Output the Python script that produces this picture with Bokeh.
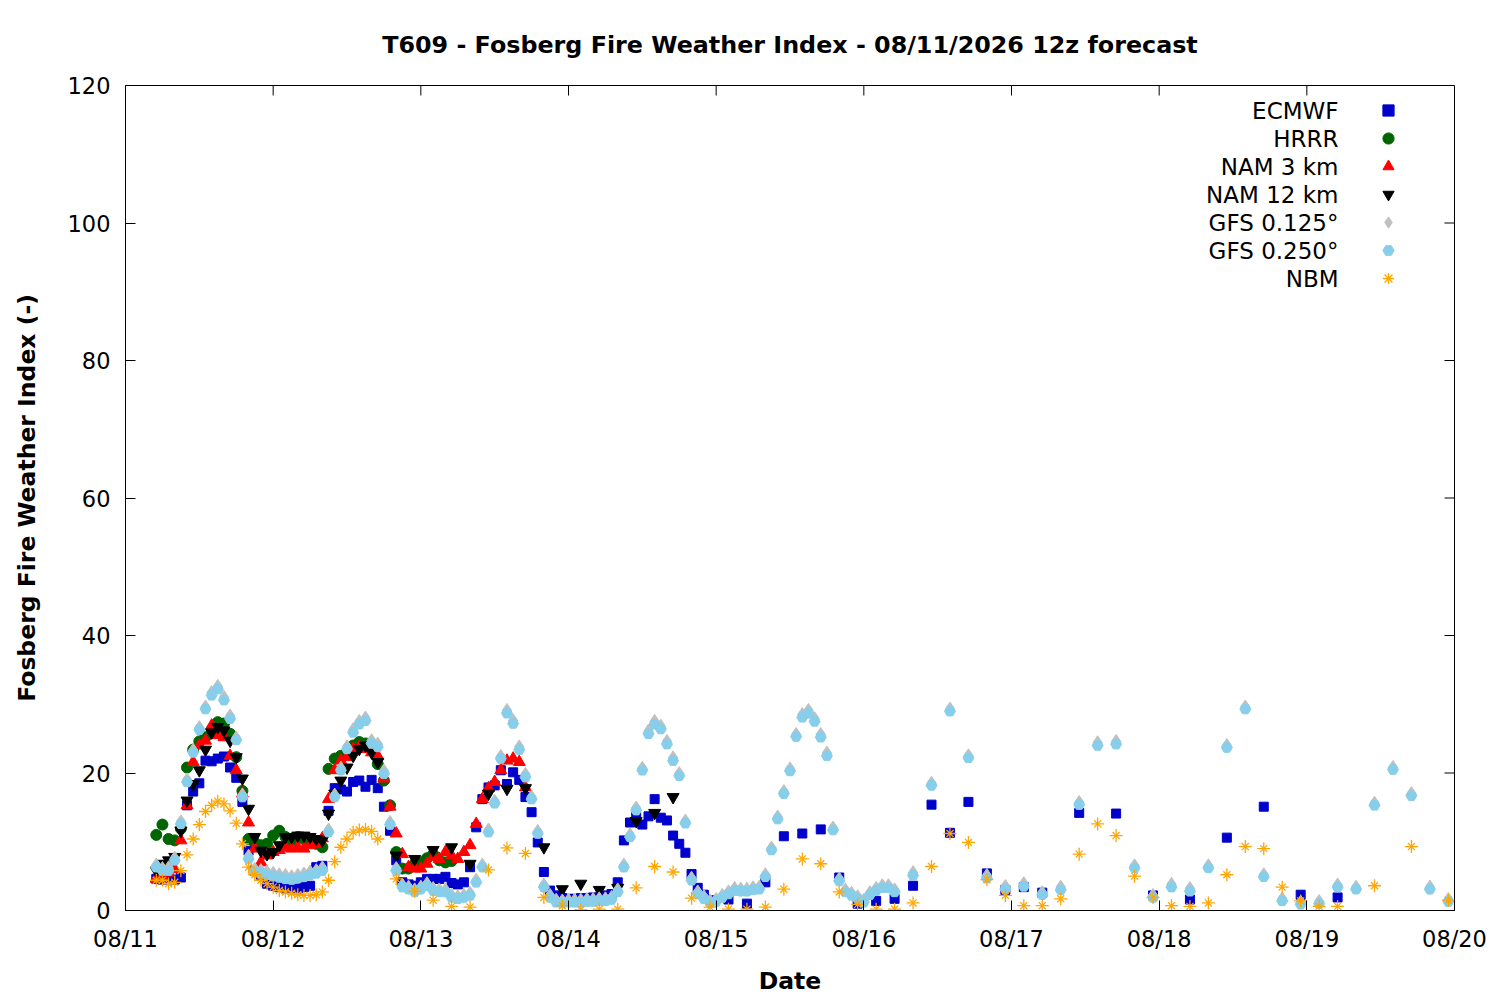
from bokeh.plotting import figure
from bokeh.models import FixedTicker, Legend, LegendItem, Label, Range1d, ColumnDataSource
from bokeh.embed import file_html
from bokeh.resources import INLINE

# ---------------- data (x = hours since 08/11 00 local) ----------------
day_ticks = [0, 24, 48, 72, 96, 120, 144, 168, 192, 216]
day_labels = ["08/11", "08/12", "08/13", "08/14", "08/15", "08/16", "08/17", "08/18", "08/19", "08/20"]
y_ticks = [0, 20, 40, 60, 80, 100, 120]

ecmwf_hours = list(range(5, 96)) + list(range(98, 150, 3)) + list(range(155, 198, 6))
ecmwf_vals = [4.6, 4.5, 4.6, 4.5, 4.8,
              15.3, 17.3, 18.5, 21.8, 21.7, 22.1, 22.4, 20.8, 19.3, 15.8,
              8.7, 5.8, 5.2, 3.9, 3.6, 3.4, 3.2, 3.1, 3.2, 3.4,
              3.6, 6.3, 6.5, 14.5, 17.8, 17.6, 17.3, 18.7, 18.9, 18.0,
              19.0, 17.8, 15.1, 11.6, 7.3, 4.1, 3.8, 3.6, 4.1, 4.6,
              4.6, 4.6, 4.9, 4.0, 3.8, 4.1, 6.3, 12.1, 16.2, 17.9,
              18.2, 20.4, 18.4, 20.1, 19.0, 16.5, 14.3, 9.9, 5.6, 2.9,
              2.2, 1.8, 1.7, 1.7, 1.8, 1.8, 1.9, 1.9, 2.2, 2.4,
              4.1, 10.2, 12.8, 13.6, 12.5, 13.7, 16.2, 13.5, 13.1, 10.9,
              9.7, 8.4, 5.3, 3.3, 2.3, 1.5,
              1.6, 1.0, 4.1, 10.8, 11.2, 11.8, 4.8, 1.0, 1.4, 1.7, 3.6, 15.4, 11.3, 15.8, 5.4, 3.0, 3.4, 2.6,
              14.2, 14.1, 2.2, 1.6, 10.6, 15.1, 2.3, 1.9]

hrrr_hours = list(range(5, 54))
hrrr_vals = [11.0, 12.5, 10.4, 10.2, 11.9,
             20.8, 23.4, 24.6, 25.2, 26.3, 27.4, 27.2, 25.7, 22.3, 17.4,
             10.4, 9.9, 9.5, 9.7, 10.9, 11.6, 10.7, 10.2, 10.7, 10.4,
             10.2, 9.7, 9.2, 20.6, 22.1, 22.5, 23.0, 24.0, 24.5, 24.3,
             24.0, 21.3, 18.9, 15.3, 8.5, 6.1, 6.1, 6.8, 7.0, 7.6,
             8.2, 7.3, 7.0, 7.2]

nam3_hours = list(range(5, 66))
nam3_vals = [4.6, 5.0, 5.5, 6.0, 10.2,
             15.3, 21.6, 24.0, 24.7, 26.9, 25.5, 25.2, 22.5, 20.4, 17.0,
             12.8, 9.0, 7.0, 8.0, 8.5, 8.8, 9.2, 9.0, 9.2, 9.0,
             9.5, 9.7, 10.5, 16.2, 20.4, 21.8, 22.3, 23.5, 23.8, 23.5,
             23.0, 22.5, 19.2, 15.1, 11.2, 8.2, 6.3, 6.1, 6.1, 6.8,
             7.8, 7.5, 8.5, 8.0, 7.5, 8.5, 9.5, 12.6, 16.2, 17.8,
             18.7, 20.4, 21.8, 22.1, 21.6, 17.9]

nam12_hours = list(range(5, 42)) + list(range(44, 90, 3))
nam12_vals = [5.8, 6.8, 7.3, 7.8, 11.6,
              16.0, 18.4, 20.4, 23.4, 25.9, 26.7, 26.2, 24.7, 22.3, 19.2,
              14.8, 10.7, 8.7, 8.2, 8.5, 9.5, 10.7, 10.7, 10.9, 10.9,
              10.7, 10.4, 10.2, 14.1, 17.0, 18.9, 20.8, 22.5, 23.5, 24.0,
              23.0, 21.6,
              8.0, 7.5, 8.8, 9.2, 6.8, 17.0, 17.7, 17.8, 9.2, 3.1, 3.9, 3.0, 3.3, 13.0, 14.2, 16.5]

gfs_hours = list(range(5, 126)) + list(range(128, 216, 3))
gfs025_vals = [6.3, 5.8, 5.8, 7.3, 12.6,
               18.7, 23.0, 26.3, 29.3, 31.3, 32.2, 30.6, 27.9, 24.8, 16.5,
               7.5, 5.6, 5.4, 5.2, 5.0, 4.8, 4.6, 4.5, 4.7, 4.9,
               5.2, 5.4, 5.8, 11.4, 16.5, 20.4, 23.5, 25.9, 27.1, 27.6,
               24.3, 23.8, 19.9, 12.5, 5.8, 3.4, 3.1, 2.7, 3.1, 3.6,
               2.9, 2.7, 2.7, 1.9, 1.7, 1.9, 2.2, 4.1, 6.3, 11.4,
               15.6, 22.1, 28.7, 27.2, 23.4, 19.4, 16.2, 11.2, 3.4, 1.9,
               1.2, 1.1, 1.2, 1.2, 1.2, 1.3, 1.3, 1.4, 1.4, 1.6,
               2.7, 6.3, 10.7, 14.6, 20.4, 25.7, 27.1, 26.4, 24.2, 21.8,
               19.6, 12.7, 4.4, 2.4, 1.7, 1.1, 1.3, 1.9, 2.4, 2.9,
               2.8, 2.8, 3.0, 3.1, 4.9, 8.8, 13.3, 17.0, 20.3, 25.3,
               28.1, 28.7, 27.5, 25.2, 22.5, 11.7, 4.3, 2.7, 2.2, 1.7,
               1.2, 2.3, 2.9, 3.3, 3.3, 2.7,
               5.1, 18.2, 29.0, 22.2, 4.7, 3.1, 3.5, 2.3, 3.0, 15.4,
               24.0, 24.2, 6.2, 1.9, 3.4, 2.8, 6.2, 23.7, 29.3, 4.9,
               1.4, 0.9, 1.0, 3.4, 3.1, 15.3, 20.5, 16.7, 3.1, 1.3]
gfs0125_vals = [6.6, 6.1, 6.2, 7.6, 12.9,
                19.0, 23.3, 26.6, 29.6, 31.7, 32.6, 31.0, 28.3, 25.1, 16.8,
                7.9, 6.0, 5.8, 5.6, 5.4, 5.2, 5.1, 4.9, 5.1, 5.3,
                5.6, 5.8, 6.2, 11.7, 16.8, 20.7, 23.8, 26.3, 27.5, 28.0,
                24.7, 24.2, 20.3, 12.8, 6.1, 3.7, 3.4, 3.0, 3.4, 3.9,
                3.2, 3.0, 3.0, 2.2, 2.0, 2.2, 2.5, 4.4, 6.6, 11.7,
                15.9, 22.4, 29.1, 27.6, 23.8, 19.8, 16.5, 11.5, 3.7, 2.2,
                1.5, 1.4, 1.5, 1.5, 1.5, 1.6, 1.6, 1.7, 1.7, 1.9,
                3.0, 6.6, 11.0, 14.9, 20.7, 26.1, 27.5, 26.8, 24.6, 22.2,
                19.9, 13.0, 4.7, 2.7, 2.0, 1.4, 1.6, 2.2, 2.7, 3.2,
                3.1, 3.1, 3.3, 3.4, 5.2, 9.1, 13.6, 17.3, 20.6, 25.6,
                28.5, 29.1, 27.9, 25.6, 22.9, 12.0, 4.6, 3.0, 2.5, 2.0,
                1.5, 2.6, 3.2, 3.6, 3.6, 3.0,
                5.5, 18.5, 29.3, 22.5, 5.1, 3.5, 3.9, 2.6, 3.4, 15.7,
                24.4, 24.6, 6.5, 2.2, 3.8, 3.2, 6.5, 24.0, 29.6, 5.2,
                1.7, 1.2, 1.3, 3.7, 3.4, 15.6, 20.8, 17.0, 3.4, 1.6]

nbm_hours = list(range(5, 42)) + list(range(44, 198, 3)) + [203, 209, 215]
nbm_vals = [4.4, 4.4, 3.9, 4.1, 5.8,
            8.1, 10.4, 12.5, 14.4, 15.3, 15.9, 15.5, 14.5, 12.7, 9.7,
            6.3, 5.2, 4.4, 3.9, 3.4, 2.9, 2.7, 2.5, 2.3, 2.2,
            2.2, 2.3, 2.7, 4.4, 7.1, 9.2, 10.4, 11.4, 11.7, 11.8,
            11.5, 10.4,
            4.6, 2.8, 1.5, 0.6, 0.5, 5.9, 9.1, 8.3, 1.9, 0.7,
            0.1, 0.2, 0.2, 3.3, 6.4, 5.6, 1.8, 0.5, 0.2, 0.2,
            0.5, 3.1, 7.5, 6.8, 2.7, 0.9, 0.2, 0.2, 1.1, 6.4,
            11.2, 9.9, 4.5, 2.2, 0.7, 0.7, 1.7, 8.2, 12.6, 10.9,
            5.0, 1.9, 0.7, 0.6, 1.1, 5.2, 9.3, 9.0, 3.4, 1.4,
            0.6, 0.6,
            3.6, 9.3, 1.5]

names = ["ECMWF", "HRRR", "NAM 3 km", "NAM 12 km", "GFS 0.125°", "GFS 0.250°", "NBM"]

# ---------------- figure ----------------
FONT = "DejaVu Sans"
W, H = 1500, 1000
LEFT, RIGHT, TOP, BOTTOM = 125, 46, 85, 90
FW, FH = W - LEFT - RIGHT, H - TOP - BOTTOM
X0, X1, Y0, Y1 = 0, 216, 0, 120
TICK = 10

p = figure(width=W, height=H, output_backend="svg", toolbar_location=None,
           x_range=Range1d(X0, X1), y_range=Range1d(Y0, Y1),
           min_border_left=LEFT, min_border_right=RIGHT, min_border_top=TOP, min_border_bottom=BOTTOM)
p.background_fill_color = "white"
p.border_fill_color = "white"
p.grid.visible = False
p.outline_line_color = "black"
p.outline_line_width = 1
p.outline_line_alpha = 1

p.title.text = "T609 - Fosberg Fire Weather Index - 08/11/2026 12z forecast"
p.title.align = "center"
p.title.text_font = FONT
p.title.text_font_size = "23.8px"
p.title.text_font_style = "bold"
p.title.text_color = "black"
p.title.standoff = 53

xa = p.xaxis[0]
ya = p.yaxis[0]
xa.ticker = FixedTicker(ticks=day_ticks)
xa.major_label_overrides = {t: l for t, l in zip(day_ticks, day_labels)}
ya.ticker = FixedTicker(ticks=y_ticks)
xa.axis_label = "Date"
ya.axis_label = "Fosberg Fire Weather Index (-)"
for ax in (xa, ya):
    ax.major_tick_in = TICK
    ax.major_tick_out = 0
    ax.minor_tick_in = 0
    ax.minor_tick_out = 0
    ax.axis_line_color = "black"
    ax.major_tick_line_color = "black"
    ax.major_label_text_font = FONT
    ax.major_label_text_font_size = "22.5px"
    ax.major_label_text_color = "black"
    ax.axis_label_text_font = FONT
    ax.axis_label_text_font_size = "23.5px"
    ax.axis_label_text_font_style = "bold"
    ax.axis_label_text_color = "black"
xa.major_label_standoff = 15
ya.major_label_standoff = 15
xa.axis_label_standoff = 12
ya.axis_label_standoff = 24

# mirrored inward ticks on the right and top borders
dx = TICK * (X1 - X0) / FW
dy = TICK * (Y1 - Y0) / FH
p.segment(x0=[X1] * len(y_ticks), y0=y_ticks, x1=[X1 - dx] * len(y_ticks), y1=y_ticks,
          line_color="black", line_width=1)
p.segment(x0=day_ticks, y0=[Y1] * len(day_ticks), x1=day_ticks, y1=[Y1 - dy] * len(day_ticks),
          line_color="black", line_width=1)

# ---------------- series ----------------
def src(h, v):
    return ColumnDataSource(data=dict(x=h, y=v))

r_ec = p.scatter("x", "y", source=src(ecmwf_hours, ecmwf_vals), marker="square", size=9,
                 fill_color="#0000cd", line_color="#0000cd")
r_hr = p.scatter("x", "y", source=src(hrrr_hours, hrrr_vals), marker="circle", size=11,
                 fill_color="#006400", line_color="#006400")
r_n3 = p.scatter("x", "y", source=src(nam3_hours, nam3_vals), marker="triangle", size=12,
                 fill_color="#ff0000", line_color="#ff0000")
r_n12 = p.scatter("x", "y", source=src(nam12_hours, nam12_vals), marker="inverted_triangle", size=12,
                  fill_color="black", line_color="black")
r_g1 = p.scatter("x", "y", source=src(gfs_hours, gfs0125_vals), marker="diamond", size=14,
                 fill_color="#c0c0c0", line_color="#c0c0c0")
r_g2 = p.scatter("x", "y", source=src(gfs_hours, gfs025_vals), marker="hex", size=11,
                 fill_color="#87ceeb", line_color="#87ceeb")
nbm_src = src(nbm_hours, nbm_vals)
r_nb1 = p.scatter("x", "y", source=nbm_src, marker="cross", size=13, fill_color=None,
                  line_color="#ffa500", line_width=1.3)
r_nb2 = p.scatter("x", "y", source=nbm_src, marker="x", size=10, fill_color=None,
                  line_color="#ffa500", line_width=1.3)

# ---------------- legend (symbols right of right-aligned texts) ----------------
rend_groups = [[r_ec], [r_hr], [r_n3], [r_n12], [r_g1], [r_g2], [r_nb1, r_nb2]]
leg = Legend(items=[LegendItem(label=" ", renderers=g) for g in rend_groups],
             location=(1248, 618), orientation="vertical", glyph_width=30, glyph_height=28,
             spacing=0, padding=0, margin=0, border_line_color=None, background_fill_alpha=0,
             label_text_font_size="1px", label_standoff=0, label_width=0, label_height=28)
p.add_layout(leg)
for i, n in enumerate(names):
    p.add_layout(Label(x=1213, y=800 - 28 * i, x_units="screen", y_units="screen", text=n,
                       text_align="right", text_baseline="middle", text_font=FONT,
                       text_font_size="23px", text_color="black"))

open("out.html", "w").write(file_html(p, INLINE))
